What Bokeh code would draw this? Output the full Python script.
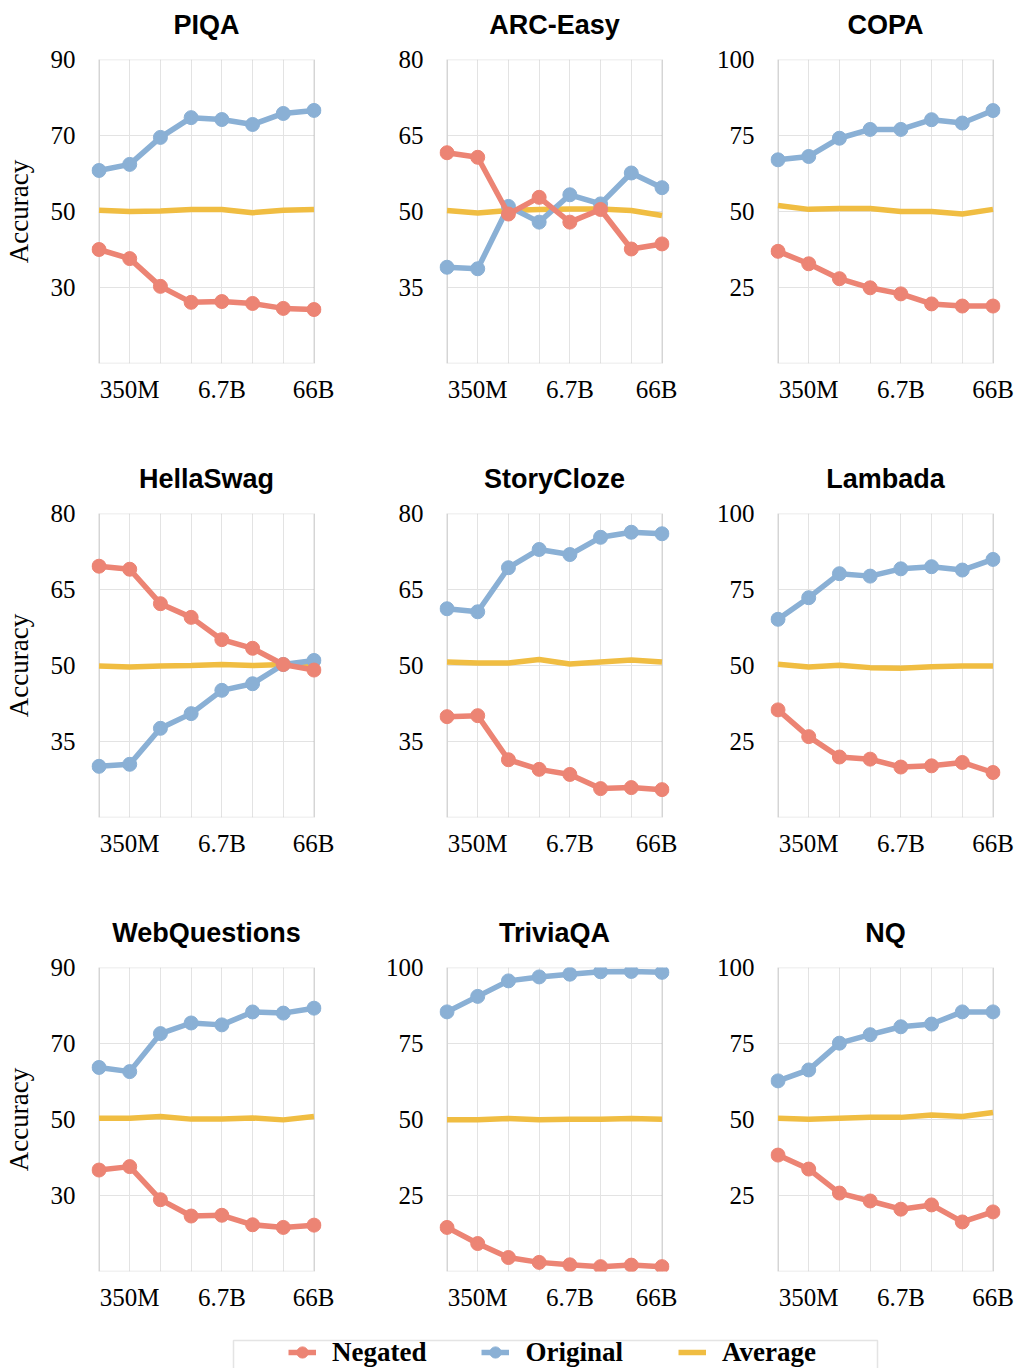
from bokeh.plotting import figure
from bokeh.layouts import column, row
from bokeh.models import Range1d, FixedTicker, BoxAnnotation, Legend, LegendItem, Label
from bokeh.embed import file_html
from bokeh.resources import INLINE

# ---------------- data ----------------
model_sizes = ["125M", "350M", "1.3B", "2.7B", "6.7B", "13B", "30B", "66B"]
x_tick_labels = {1: "350M", 4: "6.7B", 7: "66B"}

tasks = ["PIQA", "ARC-Easy", "COPA", "HellaSwag", "StoryCloze", "Lambada",
         "WebQuestions", "TriviaQA", "NQ"]

piqa_neg = [40.0, 37.6, 30.3, 26.1, 26.3, 25.8, 24.5, 24.2]
piqa_orig = [60.8, 62.4, 69.5, 74.7, 74.2, 72.9, 75.8, 76.6]
piqa_avg = [50.3, 50.0, 50.1, 50.5, 50.5, 49.7, 50.3, 50.5]

arc_neg = [61.6, 60.7, 49.5, 52.8, 47.9, 50.4, 42.6, 43.6]
arc_orig = [39.0, 38.7, 51.0, 47.9, 53.3, 51.5, 57.6, 54.7]
arc_avg = [50.2, 49.7, 50.2, 50.4, 50.5, 50.5, 50.2, 49.2]

copa_neg = [36.9, 32.8, 27.9, 24.9, 22.9, 19.6, 18.9, 18.9]
copa_orig = [67.0, 68.1, 74.1, 77.0, 77.0, 80.2, 79.1, 83.2]
copa_avg = [52.0, 50.7, 51.0, 51.0, 50.0, 50.0, 49.2, 50.7]

hella_neg = [69.6, 69.0, 62.2, 59.5, 55.1, 53.4, 50.2, 49.1]
hella_orig = [30.1, 30.5, 37.6, 40.5, 45.1, 46.4, 50.2, 51.0]
hella_avg = [49.9, 49.7, 49.9, 50.0, 50.2, 50.0, 50.2, 50.1]

story_neg = [39.9, 40.1, 31.4, 29.5, 28.5, 25.7, 25.9, 25.5]
story_orig = [61.2, 60.6, 69.3, 72.9, 71.9, 75.3, 76.3, 76.0]
story_avg = [50.7, 50.5, 50.5, 51.2, 50.3, 50.7, 51.1, 50.7]

lambada_neg = [35.4, 26.6, 19.9, 19.2, 16.6, 17.0, 18.1, 14.8]
lambada_orig = [65.2, 72.3, 80.2, 79.4, 81.8, 82.5, 81.4, 84.9]
lambada_avg = [50.4, 49.5, 50.1, 49.3, 49.1, 49.6, 49.8, 49.8]

webq_neg = [36.7, 37.6, 28.9, 24.6, 24.8, 22.3, 21.6, 22.2]
webq_orig = [63.7, 62.6, 72.6, 75.4, 74.9, 78.3, 78.0, 79.3]
webq_avg = [50.3, 50.3, 50.8, 50.1, 50.1, 50.4, 49.9, 50.8]

trivia_neg = [14.5, 9.2, 4.6, 3.0, 2.2, 1.6, 2.1, 1.6]
trivia_orig = [85.4, 90.5, 95.6, 96.9, 97.8, 98.6, 98.7, 98.4]
trivia_avg = [49.9, 49.9, 50.3, 49.9, 50.1, 50.1, 50.3, 50.1]

nq_neg = [38.3, 33.7, 25.8, 23.2, 20.5, 21.9, 16.3, 19.6]
nq_orig = [62.7, 66.3, 75.1, 77.9, 80.5, 81.4, 85.4, 85.4]
nq_avg = [50.4, 50.1, 50.4, 50.7, 50.7, 51.5, 51.0, 52.3]

negated = [piqa_neg, arc_neg, copa_neg, hella_neg, story_neg, lambada_neg, webq_neg, trivia_neg, nq_neg]
original = [piqa_orig, arc_orig, copa_orig, hella_orig, story_orig, lambada_orig, webq_orig, trivia_orig, nq_orig]
average = [piqa_avg, arc_avg, copa_avg, hella_avg, story_avg, lambada_avg, webq_avg, trivia_avg, nq_avg]

y_ranges = [(10, 90), (20, 80), (0, 100), (20, 80), (20, 80), (0, 100), (10, 90), (0, 100), (0, 100)]
y_ticks = [[30, 50, 70, 90], [35, 50, 65, 80], [25, 50, 75, 100],
           [35, 50, 65, 80], [35, 50, 65, 80], [25, 50, 75, 100],
           [30, 50, 70, 90], [25, 50, 75, 100], [25, 50, 75, 100]]

series_names = ["Negated", "Original", "Average"]

# ---------------- style ----------------
NEG_C = "#EC8474"
ORIG_C = "#8AB0D5"
AVG_C = "#F0BD42"
GRID_C = "#E3E3E3"
FRAME_C = "#A6A6A6"
SERIF = "Liberation Serif"
SANS = "Liberation Sans"

FRAME_W = 230
FRAME_H = 304
BOX_W = 215
NPTS = len(model_sizes)
XPAD = (FRAME_W * (NPTS - 1) / BOX_W - (NPTS - 1)) / 2.0

LEFT = [91, 105, 93]
RIGHT = [13, 8, 15]
COL_W = [LEFT[c] + FRAME_W + RIGHT[c] for c in range(3)]
TOTAL_W = sum(COL_W)

STRIP_H = [40, 74, 74]        # title strip above each row
TITLE_FROM_TOP = [24, 55, 55]  # title centre, px below strip top
TOP = [19, 16, 16]
BOTTOM = [60, 60, 55]


def make_title_strip(r):
    s = figure(width=TOTAL_W, height=STRIP_H[r],
               x_range=Range1d(0, TOTAL_W), y_range=Range1d(0, STRIP_H[r]),
               output_backend="svg", toolbar_location=None, min_border=0,
               x_axis_type=None, y_axis_type=None)
    s.outline_line_color = None
    s.xgrid.visible = False
    s.ygrid.visible = False
    x0 = 0
    for c in range(3):
        cx = x0 + LEFT[c] + FRAME_W / 2.0
        s.add_layout(Label(x=cx, y=STRIP_H[r] - TITLE_FROM_TOP[r], text=tasks[3 * r + c],
                           text_align="center", text_baseline="middle",
                           text_font=SANS, text_font_style="bold",
                           text_font_size="27px", text_color="black"))
        x0 += COL_W[c]
    return s


def make_panel(i):
    c, r = i % 3, i // 3
    ylo, yhi = y_ranges[i]
    h = TOP[r] + FRAME_H + BOTTOM[r]
    p = figure(width=COL_W[c], height=h,
               x_range=Range1d(-XPAD, NPTS - 1 + XPAD),
               y_range=Range1d(ylo, yhi),
               output_backend="svg", toolbar_location=None,
               min_border_left=LEFT[c], min_border_right=RIGHT[c],
               min_border_top=TOP[r], min_border_bottom=BOTTOM[r])
    p.outline_line_color = None
    p.background_fill_color = "white"
    p.border_fill_color = "white"

    # axes
    p.xaxis.ticker = FixedTicker(ticks=list(x_tick_labels.keys()))
    p.xaxis.major_label_overrides = x_tick_labels
    p.yaxis.ticker = FixedTicker(ticks=y_ticks[i])
    for ax in (p.xaxis, p.yaxis):
        ax.axis_line_color = None
        ax.major_tick_line_color = None
        ax.minor_tick_line_color = None
        ax.major_tick_out = 0
        ax.major_tick_in = 0
        ax.major_label_text_font = SERIF
        ax.major_label_text_font_size = "25px"
        ax.major_label_text_color = "black"
    p.xaxis.major_label_standoff = 12
    p.yaxis.major_label_standoff = 16
    if c == 0:
        p.yaxis.axis_label = "Accuracy"
        p.yaxis.axis_label_text_font = SERIF
        p.yaxis.axis_label_text_font_size = "27px"
        p.yaxis.axis_label_text_font_style = "normal"
        p.yaxis.axis_label_text_color = "black"
        p.yaxis.axis_label_standoff = 14

    # grids
    p.xgrid.ticker = FixedTicker(ticks=list(range(NPTS)))
    p.xgrid.grid_line_color = GRID_C
    p.ygrid.ticker = FixedTicker(ticks=y_ticks[i])
    p.ygrid.grid_line_color = GRID_C
    p.ygrid.cross_bounds = (0, NPTS - 1)

    # plot box
    p.add_layout(BoxAnnotation(left=0, right=NPTS - 1, bottom=ylo, top=yhi,
                               fill_color=None, fill_alpha=0,
                               line_color=FRAME_C, line_width=1.5,
                               level="underlay"))

    xs = list(range(NPTS))
    p.line(xs, average[i], line_color=AVG_C, line_width=5.5)
    p.line(xs, original[i], line_color=ORIG_C, line_width=5.5)
    p.scatter(xs, original[i], size=14, fill_color=ORIG_C, line_color=ORIG_C)
    p.line(xs, negated[i], line_color=NEG_C, line_width=5.5)
    p.scatter(xs, negated[i], size=14, fill_color=NEG_C, line_color=NEG_C)
    return p


panels = [make_panel(i) for i in range(9)]
strips = [make_title_strip(r) for r in range(3)]

# ---------------- legend strip ----------------
LEG_W, LEG_H = TOTAL_W, 42
lg = figure(width=LEG_W, height=LEG_H, x_range=Range1d(0, LEG_W), y_range=Range1d(0, LEG_H),
            output_backend="svg", toolbar_location=None, min_border=0,
            x_axis_type=None, y_axis_type=None)
lg.outline_line_color = None
lg.xgrid.visible = False
lg.ygrid.visible = False
lg.add_layout(BoxAnnotation(left=233, right=877, bottom=-20, top=28,
                            fill_color=None, fill_alpha=0,
                            line_color=FRAME_C, line_width=1.5))
xs = list(range(NPTS))
rn_l = lg.line(xs, negated[0], line_color=NEG_C, line_width=5.5, visible=False)
rn_s = lg.scatter(xs, negated[0], size=14, fill_color=NEG_C, line_color=NEG_C, visible=False)
ro_l = lg.line(xs, original[0], line_color=ORIG_C, line_width=5.5, visible=False)
ro_s = lg.scatter(xs, original[0], size=14, fill_color=ORIG_C, line_color=ORIG_C, visible=False)
ra_l = lg.line(xs, average[0], line_color=AVG_C, line_width=5.5, visible=False)
legend = Legend(items=[LegendItem(label=series_names[0], renderers=[rn_l, rn_s]),
                       LegendItem(label=series_names[1], renderers=[ro_l, ro_s]),
                       LegendItem(label=series_names[2], renderers=[ra_l])],
                orientation="horizontal", location=(288, -1),
                border_line_color=None, background_fill_alpha=0,
                padding=0, margin=0, spacing=55,
                glyph_width=28, glyph_height=34, label_height=30, label_standoff=16,
                label_text_font=SERIF, label_text_font_style="bold",
                label_text_font_size="27px", label_text_color="black")
lg.add_layout(legend, "center")

layout = column(strips[0], row(*panels[0:3]),
                strips[1], row(*panels[3:6]),
                strips[2], row(*panels[6:9]),
                lg)

open("out.html", "w").write(file_html(layout, INLINE))
